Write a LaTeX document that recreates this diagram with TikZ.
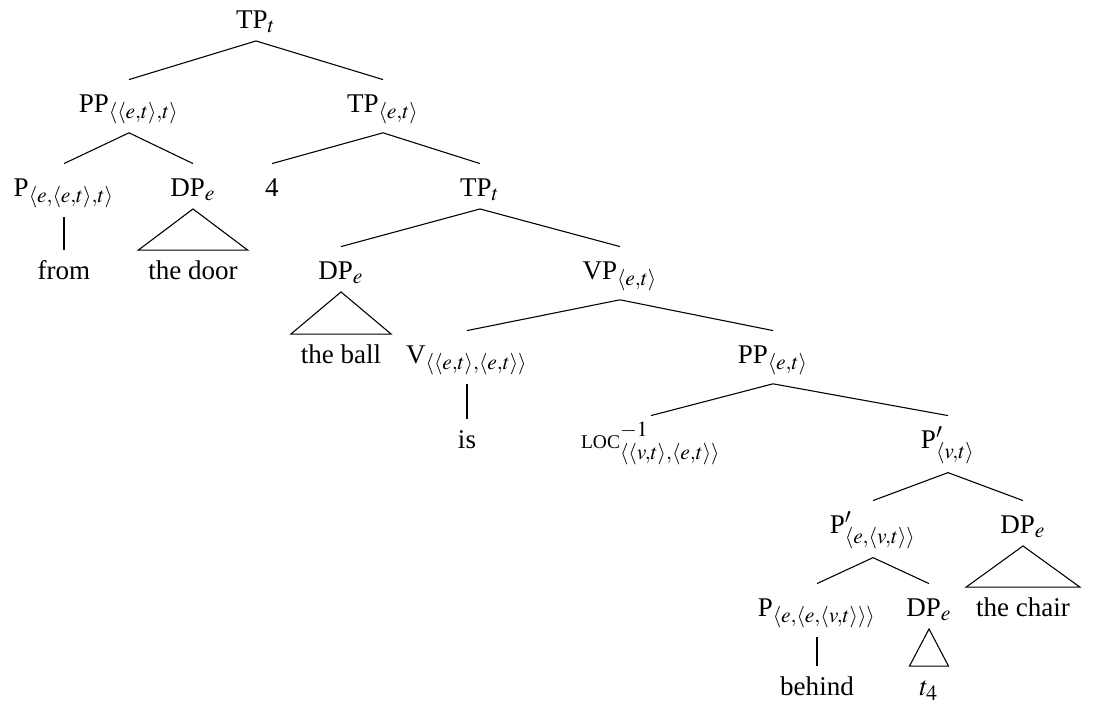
\documentclass[tikz,border=0pt]{standalone}
\usepackage{mathptmx}
\usepackage{fontspec}
\setmainfont{Liberation Serif}
\usepackage{tikz}
\DeclareMathSizes{10}{10}{8}{6}

\begin{document}
\begin{tikzpicture}[x=0.37pt,y=-0.37pt]
    \tikzstyle{cat}=[anchor=base, inner xsep=0pt, inner ysep=3pt, text height=8.8pt]
    \tikzstyle{word}=[anchor=base, inner xsep=3.5pt, inner ysep=2.5pt, text height=8pt]
    \useasboundingbox (0,0) rectangle (1102,702);
    % Draw the categories
    \node[cat] (tp) at (256,28) {TP$_t$};
    \node[cat] (pp) at (129,112) {PP$_{\langle\langle e,t\rangle,t\rangle}$};
    \node[cat] (tpa) at (383,112) {TP$_{\langle e,t\rangle}$};
    \node[cat] (p) at (64,196) {P$_{\langle e,\langle e,t\rangle,t\rangle}$};
    \node[cat] (dpa) at (193,196) {DP$_e$};
    \node[cat] (four) at (272,196) {4};
    \node[cat] (tpb) at (480,196) {TP$_t$};
    \node[cat] (dpb) at (341,279) {DP$_e$};
    \node[cat] (vp) at (620,279) {VP$_{\langle e,t\rangle}$};
    \node[cat] (v) at (467,363) {V$_{\langle\langle e,t\rangle,\langle e,t\rangle\rangle}$};
    \node[cat] (ppa) at (773,363) {PP$_{\langle e,t\rangle}$};
    \node[cat] (loc) at (651,448) {{\fontsize{7.2}{8}\selectfont LOC}$^{-1}_{\langle\langle v,t\rangle,\langle e,t\rangle\rangle}$};
    \node[cat] (pbar) at (948,448) {P$'_{\langle v,t\rangle}$};
    \node[cat] (pbara) at (873,533) {P$'_{\langle e,\langle v,t\rangle\rangle}$};
    \node[cat] (dpc) at (1023,533) {DP$_e$};
    \node[cat] (pa) at (817,616) {P$_{\langle e,\langle e,\langle v,t\rangle\rangle\rangle}$};
    \node[cat] (dpd) at (929,616) {DP$_e$};
    % Draw the words
    \node[word] (from) at (64,279) {from};
    \node[word] (door) at (193,279) {the door};
    \node[word] (ball) at (341,363) {the ball};
    \node[word] (is) at (467,448) {is};
    \node[word] (chair) at (1023,616) {the chair};
    \node[word] (behind) at (817,695) {behind};
    \node[word] (trace) at (929,695) {$t_4$};
    % Branches
    \draw (tp.south) -- (pp.north);
    \draw (tp.south) -- (tpa.north);
    \draw (pp.south) -- (p.north);
    \draw (pp.south) -- (dpa.north);
    \draw (tpa.south) -- (four.north);
    \draw (tpa.south) -- (tpb.north);
    \draw (tpb.south) -- (dpb.north);
    \draw (tpb.south) -- (vp.north);
    \draw (vp.south) -- (v.north);
    \draw (vp.south) -- (ppa.north);
    \draw (ppa.south) -- (loc.north);
    \draw (ppa.south) -- (pbar.north);
    \draw (pbar.south) -- (pbara.north);
    \draw (pbar.south) -- (dpc.north);
    \draw (pbara.south) -- (pa.north);
    \draw (pbara.south) -- (dpd.north);
    \draw (p.south) -- (from.north);
    \draw (v.south) -- (is.north);
    \draw (pa.south) -- (behind.north);
    % Triangles
    \draw (dpa.south) -- (door.north west) -- (door.north east) -- cycle;
    \draw (dpb.south) -- (ball.north west) -- (ball.north east) -- cycle;
    \draw (dpc.south) -- (chair.north west) -- (chair.north east) -- cycle;
    \draw (dpd.south) -- (trace.north west) -- (trace.north east) -- cycle;
\end{tikzpicture}
\end{document}
